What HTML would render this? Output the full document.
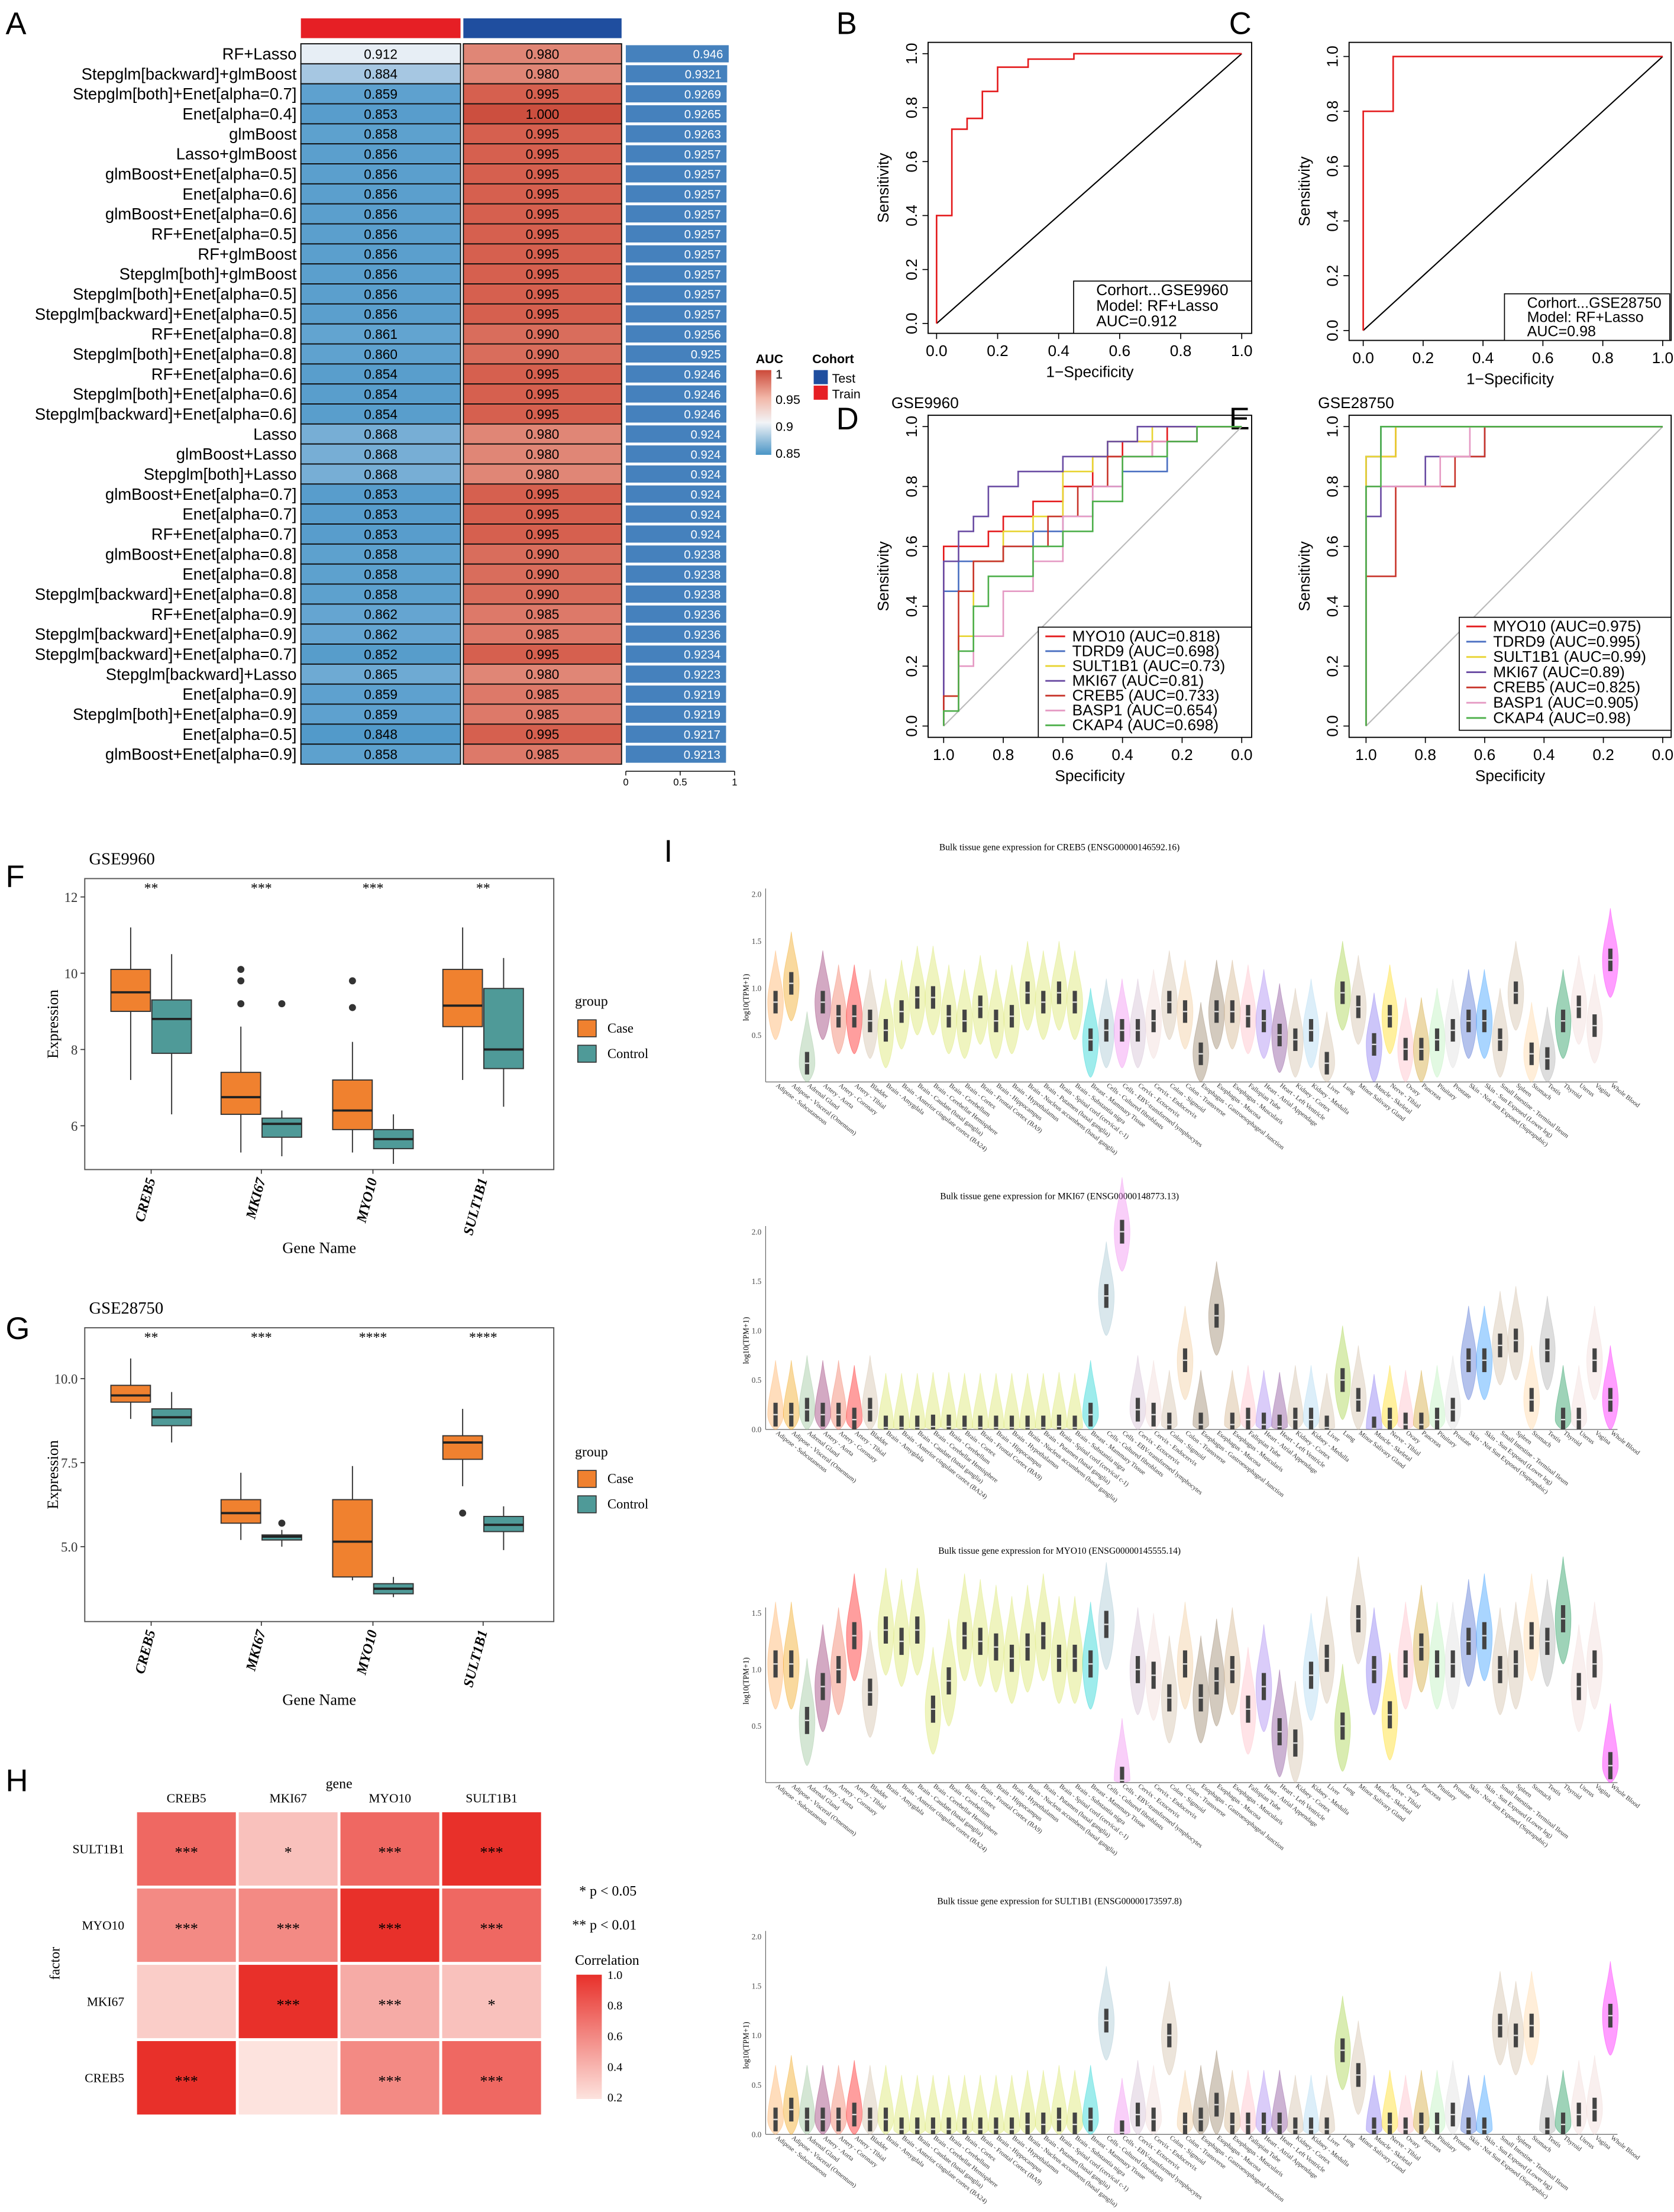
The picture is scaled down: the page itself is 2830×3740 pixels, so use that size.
<!DOCTYPE html>
<html><head><meta charset="utf-8"><style>
html,body{margin:0;padding:0;background:#fff;}
svg{display:block;}
.s{font-family:"Liberation Sans",sans-serif;}
.r{font-family:"Liberation Serif",serif;}
</style></head><body>
<svg id="s" xmlns="http://www.w3.org/2000/svg" width="2830" height="3740" viewBox="0 0 1185 1566" preserveAspectRatio="none">
<rect x="0" y="0" width="1185" height="1566" fill="#fff"/>
<g class="s" font-size="22">
<text x="4" y="24">A</text>
<text x="592" y="24">B</text>
<text x="870" y="24">C</text>
<text x="592" y="304">D</text>
<text x="870" y="304">E</text>
<text x="4" y="628">F</text>
<text x="4" y="948">G</text>
<text x="4" y="1268">H</text>
<text x="470" y="610">I</text>
</g>
<g class="s">
<defs>
<linearGradient id="aucg" x1="0" y1="0" x2="0" y2="1"><stop offset="0" stop-color="#cc4a3a"/><stop offset="0.33" stop-color="#f2b7a8"/><stop offset="0.62" stop-color="#f2f4f7"/><stop offset="1" stop-color="#4a95c6"/></linearGradient>
<linearGradient id="corg" x1="0" y1="0" x2="0" y2="1"><stop offset="0" stop-color="#e8302a"/><stop offset="1" stop-color="#fde3de"/></linearGradient>
</defs>
<text x="535" y="257" font-size="9" font-weight="bold">AUC</text>
<rect x="535" y="262" width="11" height="60" fill="url(#aucg)"/>
<text x="549" y="268" font-size="9">1</text>
<text x="549" y="286" font-size="9">0.95</text>
<text x="549" y="305" font-size="9">0.9</text>
<text x="549" y="324" font-size="9">0.85</text>
<text x="575" y="257" font-size="9" font-weight="bold">Cohort</text>
<rect x="576" y="262" width="10" height="10" fill="#1f4e9f"/>
<text x="589" y="271" font-size="9">Test</text>
<rect x="576" y="273" width="10" height="10" fill="#e61f25"/>
<text x="589" y="282" font-size="9">Train</text>
</g>
<rect x="213" y="13" width="113" height="14" fill="#e61f25"/>
<rect x="328" y="13" width="112" height="14" fill="#1f4e9f"/>
<g id="pa"></g>
<g id="roc" class="s"></g>
<g id="box" class="r"></g>
<g id="hm" class="r"></g>
<g id="vio" class="r"></g>
</svg>
<script>
const NS='http://www.w3.org/2000/svg';
function mk(tag,attrs,parent){const e=document.createElementNS(NS,tag);for(const k in attrs)e.setAttribute(k,attrs[k]);parent.appendChild(e);return e;}
function tx(parent,str,x,y,size,extra){const e=mk('text',Object.assign({x:x,y:y,'font-size':size},extra||{}),parent);e.textContent=str;return e;}

/* ---------- Panel A data ---------- */
const modelNames=["RF+Lasso","Stepglm[backward]+glmBoost","Stepglm[both]+Enet[alpha=0.7]","Enet[alpha=0.4]","glmBoost","Lasso+glmBoost","glmBoost+Enet[alpha=0.5]","Enet[alpha=0.6]","glmBoost+Enet[alpha=0.6]","RF+Enet[alpha=0.5]","RF+glmBoost","Stepglm[both]+glmBoost","Stepglm[both]+Enet[alpha=0.5]","Stepglm[backward]+Enet[alpha=0.5]","RF+Enet[alpha=0.8]","Stepglm[both]+Enet[alpha=0.8]","RF+Enet[alpha=0.6]","Stepglm[both]+Enet[alpha=0.6]","Stepglm[backward]+Enet[alpha=0.6]","Lasso","glmBoost+Lasso","Stepglm[both]+Lasso","glmBoost+Enet[alpha=0.7]","Enet[alpha=0.7]","RF+Enet[alpha=0.7]","glmBoost+Enet[alpha=0.8]","Enet[alpha=0.8]","Stepglm[backward]+Enet[alpha=0.8]","RF+Enet[alpha=0.9]","Stepglm[backward]+Enet[alpha=0.9]","Stepglm[backward]+Enet[alpha=0.7]","Stepglm[backward]+Lasso","Enet[alpha=0.9]","Stepglm[both]+Enet[alpha=0.9]","Enet[alpha=0.5]","glmBoost+Enet[alpha=0.9]"];
const trainAUC=[0.912,0.884,0.859,0.853,0.858,0.856,0.856,0.856,0.856,0.856,0.856,0.856,0.856,0.856,0.861,0.860,0.854,0.854,0.854,0.868,0.868,0.868,0.853,0.853,0.853,0.858,0.858,0.858,0.862,0.862,0.852,0.865,0.859,0.859,0.848,0.858];
const testAUC=[0.980,0.980,0.995,1.000,0.995,0.995,0.995,0.995,0.995,0.995,0.995,0.995,0.995,0.995,0.990,0.990,0.995,0.995,0.995,0.980,0.980,0.980,0.995,0.995,0.995,0.990,0.990,0.990,0.985,0.985,0.995,0.980,0.985,0.985,0.995,0.985];
const meanAUC=["0.946","0.9321","0.9269","0.9265","0.9263","0.9257","0.9257","0.9257","0.9257","0.9257","0.9257","0.9257","0.9257","0.9257","0.9256","0.925","0.9246","0.9246","0.9246","0.924","0.924","0.924","0.924","0.924","0.924","0.9238","0.9238","0.9238","0.9236","0.9236","0.9234","0.9223","0.9219","0.9219","0.9217","0.9213"];
const barTicks=[0,0.5,1];

/* ---------- ROC data ---------- */
const rocB=[[0,0],[0,0.4],[0.05,0.4],[0.05,0.72],[0.1,0.72],[0.1,0.76],[0.15,0.76],[0.15,0.86],[0.2,0.86],[0.2,0.95],[0.3,0.95],[0.3,0.98],[0.45,0.98],[0.45,1],[1,1]];
const rocC=[[0,0],[0,0.8],[0.1,0.8],[0.1,1],[1,1]];
const genesD=["MYO10","TDRD9","SULT1B1","MKI67","CREB5","BASP1","CKAP4"];
const aucD=["0.818","0.698","0.73","0.81","0.733","0.654","0.698"];
const aucE=["0.975","0.995","0.99","0.89","0.825","0.905","0.98"];
const rocColors=["#e41a1c","#4a6fc1","#e8d431","#6a4ca3","#c8352b","#e59ac4","#4daf4a"];
const rocD=[
[[0,0],[0,0.25],[0.05,0.6],[0.15,0.6],[0.2,0.65],[0.3,0.7],[0.4,0.75],[0.5,0.8],[0.6,0.9],[0.75,0.95],[0.85,1],[1,1]],
[[0,0],[0,0.2],[0.05,0.45],[0.1,0.55],[0.2,0.55],[0.3,0.6],[0.4,0.65],[0.5,0.7],[0.6,0.8],[0.75,0.85],[0.85,0.95],[1,1]],
[[0,0],[0.05,0.1],[0.1,0.3],[0.2,0.55],[0.3,0.65],[0.4,0.7],[0.5,0.85],[0.55,0.9],[0.7,0.95],[0.8,1],[1,1]],
[[0,0],[0,0.3],[0.05,0.55],[0.1,0.65],[0.15,0.7],[0.25,0.8],[0.4,0.85],[0.55,0.9],[0.65,0.95],[0.8,1],[1,1]],
[[0,0],[0.05,0.1],[0.1,0.45],[0.2,0.55],[0.35,0.6],[0.45,0.7],[0.55,0.8],[0.7,0.9],[0.85,0.95],[1,1]],
[[0,0],[0.05,0.05],[0.1,0.2],[0.2,0.3],[0.3,0.45],[0.4,0.55],[0.5,0.7],[0.6,0.8],[0.7,0.9],[0.85,0.95],[1,1]],
[[0,0],[0.05,0.05],[0.1,0.25],[0.15,0.4],[0.3,0.5],[0.4,0.6],[0.5,0.65],[0.6,0.75],[0.75,0.9],[0.85,0.95],[1,1]]];
const rocE=[
[[0,0],[0,0.9],[0.1,0.9],[0.1,1],[1,1]],
[[0,0],[0,0.9],[0.05,0.9],[0.05,1],[1,1]],
[[0,0],[0,0.9],[0.1,0.9],[0.1,1],[1,1]],
[[0,0],[0,0.7],[0.05,0.7],[0.05,0.8],[0.2,0.8],[0.2,0.9],[0.4,0.9],[0.4,1],[1,1]],
[[0,0],[0,0.5],[0.1,0.5],[0.1,0.8],[0.3,0.8],[0.3,0.9],[0.4,0.9],[0.4,1],[1,1]],
[[0,0],[0,0.8],[0.25,0.8],[0.25,0.9],[0.35,0.9],[0.35,1],[1,1]],
[[0,0],[0,0.8],[0.05,0.8],[0.05,1],[1,1]]];

/* ---------- Boxplot data ---------- */
const boxGenes=["CREB5","MKI67","MYO10","SULT1B1"];
const fCase=[[7.2,9.0,9.5,10.1,11.2],[5.3,6.3,6.75,7.4,8.6],[5.3,5.9,6.4,7.2,8.2],[7.2,8.6,9.15,10.1,11.2]];
const fCtrl=[[6.3,7.9,8.8,9.3,10.5],[5.2,5.7,6.05,6.2,6.4],[5.0,5.4,5.65,5.9,6.3],[6.5,7.5,8.0,9.6,10.4]];
const fCaseOut=[[],[9.2,9.8,10.1],[9.1,9.8],[]];
const fCtrlOut=[[],[9.2],[],[]];
const fSig=["**","***","***","**"];
const gCase=[[8.8,9.3,9.5,9.8,10.6],[5.2,5.7,6.0,6.4,7.2],[4.0,4.1,5.15,6.4,7.4],[6.8,7.6,8.1,8.3,9.1]];
const gCtrl=[[8.1,8.6,8.85,9.1,9.6],[5.0,5.2,5.3,5.35,5.5],[3.5,3.6,3.75,3.9,4.1],[4.9,5.45,5.65,5.9,6.2]];
const gCaseOut=[[],[],[],[6.0]];
const gCtrlOut=[[],[5.7],[],[]];
const gSig=["**","***","****","****"];
const fTicks=[6,8,10,12];
const gTicks=[5.0,7.5,10.0];

/* ---------- Correlation heatmap ---------- */
const hmCols=["CREB5","MKI67","MYO10","SULT1B1"];
const hmRows=["SULT1B1","MYO10","MKI67","CREB5"];
const hmVals=[[0.75,0.35,0.75,1.0],[0.6,0.6,1.0,0.75],[0.3,1.0,0.45,0.35],[1.0,0.2,0.6,0.75]];
const hmStars=[["***","*","***","***"],["***","***","***","***"],["","***","***","*"],["***","","***","***"]];

/* ---------- Violin data ---------- */
const tissues=["Adipose - Subcutaneous","Adipose - Visceral (Omentum)","Adrenal Gland","Artery - Aorta","Artery - Coronary","Artery - Tibial","Bladder","Brain - Amygdala","Brain - Anterior cingulate cortex (BA24)","Brain - Caudate (basal ganglia)","Brain - Cerebellar Hemisphere","Brain - Cerebellum","Brain - Cortex","Brain - Frontal Cortex (BA9)","Brain - Hippocampus","Brain - Hypothalamus","Brain - Nucleus accumbens (basal ganglia)","Brain - Putamen (basal ganglia)","Brain - Spinal cord (cervical c-1)","Brain - Substantia nigra","Breast - Mammary Tissue","Cells - Cultured fibroblasts","Cells - EBV-transformed lymphocytes","Cervix - Ectocervix","Cervix - Endocervix","Colon - Sigmoid","Colon - Transverse","Esophagus - Gastroesophageal Junction","Esophagus - Mucosa","Esophagus - Muscularis","Fallopian Tube","Heart - Atrial Appendage","Heart - Left Ventricle","Kidney - Cortex","Kidney - Medulla","Liver","Lung","Minor Salivary Gland","Muscle - Skeletal","Nerve - Tibial","Ovary","Pancreas","Pituitary","Prostate","Skin - Not Sun Exposed (Suprapubic)","Skin - Sun Exposed (Lower leg)","Small Intestine - Terminal Ileum","Spleen","Stomach","Testis","Thyroid","Uterus","Vagina","Whole Blood"];
const tissueColors=["#FFA54F","#EE9A00","#8FBC8F","#8B1C62","#EE6A50","#FF0000","#CDB79E","#D4E157","#D4E157","#D4E157","#D4E157","#D4E157","#D4E157","#D4E157","#D4E157","#D4E157","#D4E157","#D4E157","#D4E157","#D4E157","#00CDCD","#9AC0CD","#EE82EE","#CDB5CD","#EED5D2","#CDB79E","#EEC591","#8B7355","#8B7355","#CDAA7D","#FFB6C1","#9F79EE","#7A378B","#CDB79E","#A4D3EE","#CDB79E","#9ACD32","#CDB79E","#7A67EE","#FFD700","#FFB6C1","#CD9B1D","#B4EEB4","#D9D9D9","#3A5FCD","#1E90FF","#CDB79E","#CDB79E","#FFD39B","#A6A6A6","#008B45","#EED5D2","#EED5D2","#FF00FF"];
const creb5Med=[0.85,1.05,0.2,0.85,0.7,0.7,0.65,0.55,0.75,0.9,0.9,0.7,0.65,0.8,0.65,0.7,0.95,0.85,0.95,0.85,0.45,0.55,0.55,0.55,0.65,0.85,0.75,0.3,0.75,0.75,0.7,0.65,0.5,0.45,0.55,0.2,0.95,0.8,0.4,0.7,0.35,0.35,0.45,0.55,0.65,0.65,0.45,0.95,0.3,0.25,0.65,0.8,0.6,1.3];
const mki67Med=[0.15,0.15,0.2,0.15,0.15,0.1,0.2,0.02,0.02,0.02,0.03,0.03,0.02,0.02,0.02,0.02,0.02,0.02,0.03,0.02,0.15,1.35,2.0,0.2,0.15,0.05,0.7,0.05,1.15,0.05,0.1,0.05,0.03,0.1,0.1,0.02,0.5,0.3,0.01,0.1,0.05,0.05,0.1,0.2,0.7,0.7,0.85,0.9,0.3,0.8,0.1,0.1,0.7,0.3];
const myo10Med=[1.05,1.05,0.55,0.85,1.0,1.3,0.8,1.35,1.25,1.35,0.65,0.9,1.3,1.25,1.2,1.1,1.2,1.3,1.1,1.1,1.05,1.4,0.02,1.0,0.95,0.75,1.05,0.75,0.9,1.0,0.65,0.85,0.45,0.35,0.95,1.1,0.5,1.45,1.0,0.6,1.05,1.2,1.05,1.05,1.25,1.3,1.0,1.05,1.3,1.25,1.45,0.85,1.05,0.15];
const sult1b1Med=[0.15,0.25,0.15,0.15,0.15,0.2,0.15,0.15,0.05,0.05,0.05,0.05,0.05,0.05,0.05,0.05,0.1,0.1,0.15,0.1,0.15,1.15,0.02,0.2,0.15,1.0,0.1,0.15,0.3,0.1,0.1,0.1,0.1,0.05,0.05,0.05,0.85,0.6,0.05,0.1,0.05,0.1,0.1,0.2,0.05,0.05,1.1,1.0,1.1,0.05,0.1,0.2,0.25,1.2];
const violinTitles=["Bulk tissue gene expression for CREB5 (ENSG00000146592.16)","Bulk tissue gene expression for MKI67 (ENSG00000148773.13)","Bulk tissue gene expression for MYO10 (ENSG00000145555.14)","Bulk tissue gene expression for SULT1B1 (ENSG00000173597.8)"];
const violinTicks=[[0.5,1.0,1.5,2.0],[0.0,0.5,1.0,1.5,2.0],[0.5,1.0,1.5],[0.0,0.5,1.0,1.5,2.0]];

/* ================= DRAW ================= */
function lerpC(a,b,t){const pa=[1,3,5].map(i=>parseInt(a.substr(i,2),16)),pb=[1,3,5].map(i=>parseInt(b.substr(i,2),16));return 'rgb('+pa.map((v,i)=>Math.round(v+(pb[i]-v)*t)).join(',')+')';}
function aucColor(v){
  const stops=[[0.84,'#4a95c6'],[0.86,'#5fa2cf'],[0.885,'#a9c9e3'],[0.915,'#eef2f7'],[0.96,'#f2b8a8'],[0.98,'#e08676'],[0.995,'#d6604f'],[1.0,'#cc4f3f']];
  if(v<=stops[0][0])return stops[0][1];
  for(let i=1;i<stops.length;i++){if(v<=stops[i][0]){const t=(v-stops[i-1][0])/(stops[i][0]-stops[i-1][0]);return lerpC(stops[i-1][1],stops[i][1],t);}}
  return stops[stops.length-1][1];
}
(function(){
  const g=document.getElementById('pa');
  const y0=31,rh=510/36;
  const barX=(v)=>443+v*77;
  modelNames.forEach((n,i)=>{
    const y=y0+i*rh;
    const t=tx(g,n,210,y+rh/2+4,11.5,{'text-anchor':'end','font-family':'Liberation Sans, sans-serif'});
    
    
    const c1=mk('rect',{x:213,y:y,width:113,height:rh,fill:aucColor(trainAUC[i]),stroke:'#111','stroke-width':0.8},g);
    
    
    const t1=tx(g,trainAUC[i].toFixed(3),269.5,y+rh/2+3.5,9.5,{'text-anchor':'middle','font-family':'Liberation Sans, sans-serif'});
    
    
    const c2=mk('rect',{x:328,y:y,width:112,height:rh,fill:aucColor(testAUC[i]),stroke:'#111','stroke-width':0.8},g);
    
    
    const t2=tx(g,testAUC[i].toFixed(3),384,y+rh/2+3.5,9.5,{'text-anchor':'middle','font-family':'Liberation Sans, sans-serif'});
    
    
    const mv=parseFloat(meanAUC[i]);
    const b=mk('rect',{x:barX(0),y:y+1,width:barX(mv)-barX(0),height:rh-2,fill:'#4581bd'},g);
    
    
    const t3=tx(g,meanAUC[i],barX(mv)-4,y+rh/2+3.2,8.5,{'text-anchor':'end',fill:'#fff','font-family':'Liberation Sans, sans-serif'});
    
    
  });
  const ax=mk('line',{x1:barX(0),y1:546,x2:barX(1),y2:546,stroke:'#000','stroke-width':0.6},g);
  
  
  barTicks.forEach(v=>{
    const l=mk('line',{x1:barX(v),y1:546,x2:barX(v),y2:549,stroke:'#000','stroke-width':0.6},g);
    
    
    const t=tx(g,String(v),barX(v),556,7,{'text-anchor':'middle','font-family':'Liberation Sans, sans-serif'});
    
    
  });
})();

function rocPanel(cfg){
  const g=document.getElementById('roc');
  const X=v=>cfg.x0+(cfg.x1-cfg.x0)*v, Y=v=>cfg.y0+(cfg.y1-cfg.y0)*v;
  const fr=mk('rect',{x:cfg.bx,y:cfg.by,width:cfg.bw,height:cfg.bh,fill:'none',stroke:'#000','stroke-width':0.8},g);
  
  
  const d=mk('line',{x1:X(0),y1:Y(0),x2:X(1),y2:Y(1),stroke:cfg.diag,'stroke-width':0.9},g);
  
  
  const ticks=[0,0.2,0.4,0.6,0.8,1];
  const by=cfg.by+cfg.bh;
  ticks.forEach(v=>{
    const lab=cfg.rev?(1-v).toFixed(1):v.toFixed(1);
    const l=mk('line',{x1:X(v),y1:by,x2:X(v),y2:by+4,stroke:'#000','stroke-width':0.7},g);
    
    
    const t=tx(g,lab,X(v),by+16,11,{'text-anchor':'middle'});
    
    
    const l2=mk('line',{x1:cfg.bx,y1:Y(v),x2:cfg.bx-4,y2:Y(v),stroke:'#000','stroke-width':0.7},g);
    
    
    const t2=tx(g,v.toFixed(1),cfg.bx-8,Y(v),11,{'text-anchor':'middle',transform:'rotate(-90 '+(cfg.bx-8)+' '+Y(v)+')'});
    
    
  });
  const xt=tx(g,cfg.xlab,(cfg.bx+cfg.bx+cfg.bw)/2,by+31,11,{'text-anchor':'middle'});
  
  
  const yx=cfg.bx-28, ym=cfg.by+cfg.bh/2;
  const yt=tx(g,'Sensitivity',yx,ym,11,{'text-anchor':'middle',transform:'rotate(-90 '+yx+' '+ym+')'});
  
  
  cfg.curves.forEach((pts,k)=>{
    let s='';
    pts.forEach((p,i)=>{ if(i===0){s+='M'+X(p[0])+' '+Y(p[1]);} else {const q=pts[i-1]; s+=' L'+X(q[0])+' '+Y(p[1])+' L'+X(p[0])+' '+Y(p[1]);} });
    const pth=mk('path',{d:s,fill:'none',stroke:cfg.colors[k],'stroke-width':1.1},g);
    
    
  });
  const lg=mk('rect',{x:cfg.lx,y:cfg.ly,width:cfg.lw,height:cfg.lh,fill:'#fff',stroke:'#000','stroke-width':0.7},g);
  
  
  cfg.legend.forEach((s,i)=>{
    const yy=cfg.ly+10+i*cfg.lstep;
    if(cfg.lineLegend){
      const ll=mk('line',{x1:cfg.lx+5,y1:yy-3.5,x2:cfg.lx+19,y2:yy-3.5,stroke:cfg.colors[i],'stroke-width':1.2},g);
      
      
    }
    const t=tx(g,s,cfg.lx+(cfg.lineLegend?24:16),yy,cfg.lfs,{});
    
    
  });
  if(cfg.title){const t=tx(g,cfg.title,cfg.tx,cfg.ty,11,{});}
}
rocPanel({bx:657,by:30,bw:229,bh:206,x0:663,x1:879,y0:229,y1:38,diag:'#000',xlab:'1\u2212Specificity',curves:[rocB],colors:['#e41a1c'],lx:760,ly:199,lw:126,lh:37,lstep:11,lfs:11,legend:['Corhort...GSE9960','Model: RF+Lasso','AUC=0.912']});
rocPanel({bx:955,by:30,bw:228,bh:211,x0:965,x1:1177,y0:234,y1:40,diag:'#000',xlab:'1\u2212Specificity',curves:[rocC],colors:['#e41a1c'],lx:1065,ly:208,lw:117,lh:33,lstep:10,lfs:10.5,legend:['Corhort...GSE28750','Model: RF+Lasso','AUC=0.98']});
rocPanel({bx:657,by:294,bw:229,bh:228,x0:668,x1:879,y0:514,y1:302,rev:true,diag:'#bbb',xlab:'Specificity',curves:rocD,colors:rocColors,lx:735,ly:444,lw:151,lh:78,lstep:10.5,lfs:11,lineLegend:true,legend:genesD.map((g,i)=>g+' (AUC='+aucD[i]+')'),title:'GSE9960',tx:631,ty:289});
rocPanel({bx:955,by:294,bw:228,bh:228,x0:967,x1:1177,y0:514,y1:302,rev:true,diag:'#bbb',xlab:'Specificity',curves:rocE,colors:rocColors,lx:1033,ly:437,lw:150,lh:80,lstep:10.8,lfs:11,lineLegend:true,legend:genesD.map((g,i)=>g+' (AUC='+aucE[i]+')'),title:'GSE28750',tx:933,ty:289});

function boxPanel(cfg){
  const g=document.getElementById('box');
  const Y=v=>cfg.yb-(v-cfg.vb)*cfg.sc;
  const fr=mk('rect',{x:60,y:cfg.top,width:332,height:cfg.bot-cfg.top,fill:'#fff',stroke:'#555','stroke-width':0.8},g);
  
  
  const t=tx(g,cfg.title,63,cfg.top-10,12,{});
  
  
  cfg.ticks.forEach(v=>{
    const l=mk('line',{x1:57,y1:Y(v),x2:60,y2:Y(v),stroke:'#333','stroke-width':0.7},g);
    
    
    const tt=tx(g,cfg.fmt(v),55,Y(v)+3.5,9.5,{'text-anchor':'end',fill:'#333'});
    
    
  });
  const centers=[107,185,264,342];
  boxGenes.forEach((gn,i)=>{
    [[cfg.cas[i],cfg.casOut[i],-14.5,'#f0812f'],[cfg.ctl[i],cfg.ctlOut[i],14.5,'#4f9a98']].forEach(([b,out,off,col])=>{
      const cx=centers[i]+off;
      const w=mk('line',{x1:cx,y1:Y(b[0]),x2:cx,y2:Y(b[4]),stroke:'#333','stroke-width':0.8},g);
      
      
      const r=mk('rect',{x:cx-14,y:Y(b[3]),width:28,height:Y(b[1])-Y(b[3]),fill:col,stroke:'#333','stroke-width':0.8},g);
      
      
      const m=mk('line',{x1:cx-14,y1:Y(b[2]),x2:cx+14,y2:Y(b[2]),stroke:'#222','stroke-width':1.6},g);
      
      
      out.forEach(o=>{const c=mk('circle',{cx:cx,cy:Y(o),r:2.5,fill:'#333'},g);});
    });
    const s=tx(g,cfg.sig[i],centers[i],cfg.top+10,10,{'text-anchor':'middle'});
    
    
    const tk=mk('line',{x1:centers[i],y1:cfg.bot,x2:centers[i],y2:cfg.bot+3,stroke:'#333','stroke-width':0.7},g);
    
    
    const xl=tx(g,gn,centers[i]+3,cfg.bot+7,10,{'text-anchor':'end','font-weight':'bold','font-style':'italic',transform:'rotate(-75 '+(centers[i]+3)+' '+(cfg.bot+7)+')'});
    
    
  });
  const xt=tx(g,'Gene Name',226,cfg.bot+59,11,{'text-anchor':'middle'});
  
  
  const ym=(cfg.top+cfg.bot)/2;
  const yt=tx(g,'Expression',41,ym,11,{'text-anchor':'middle',transform:'rotate(-90 41 '+ym+')'});
  
  
  const lt=tx(g,'group',407,cfg.leg,10,{});
  
  
  [['Case','#f0812f'],['Control','#4f9a98']].forEach(([n,c],k)=>{
    const yy=cfg.leg+10+k*18;
    const r=mk('rect',{x:409,y:yy,width:13,height:12,fill:c,stroke:'#333','stroke-width':0.7},g);
    
    
    const t2=tx(g,n,430,yy+9,9.5,{});
    
    
  });
}
boxPanel({title:'GSE9960',top:622,bot:828,yb:797,vb:6,sc:27,ticks:fTicks,fmt:v=>String(v),cas:fCase,ctl:fCtrl,casOut:fCaseOut,ctlOut:fCtrlOut,sig:fSig,leg:712});
boxPanel({title:'GSE28750',top:940,bot:1148,yb:1095,vb:5,sc:23.8,ticks:gTicks,fmt:v=>v.toFixed(1),cas:gCase,ctl:gCtrl,casOut:gCaseOut,ctlOut:gCtrlOut,sig:gSig,leg:1031});

(function(){
  const g=document.getElementById('hm');
  const x0=96,y0=1282,cw=72,ch=54;
  const col=v=>lerpC('#fde3de','#e8302a',(v-0.2)/0.8);
  const gt=tx(g,'gene',240,1266,10,{'text-anchor':'middle'});
  
  
  const ft=tx(g,'factor',42,1390,10,{'text-anchor':'middle',transform:'rotate(-90 42 1390)'});
  
  
  hmCols.forEach((c,j)=>{const t=tx(g,c,x0+cw*j+cw/2,1276,9,{'text-anchor':'middle'});});
  hmRows.forEach((r,i)=>{
    const t=tx(g,r,88,y0+ch*i+ch/2+3,9,{'text-anchor':'end'});
    
    
    hmCols.forEach((c,j)=>{
      const rc=mk('rect',{x:x0+cw*j,y:y0+ch*i,width:cw,height:ch,fill:col(hmVals[i][j]),stroke:'#fff','stroke-width':2},g);
      
      
      if(hmStars[i][j]){const st=tx(g,hmStars[i][j],x0+cw*j+cw/2,y0+ch*i+ch/2+6,11,{'text-anchor':'middle'});}
    });
  });
  const a=tx(g,'* p < 0.05',410,1342,10,{});
  const b=tx(g,'** p < 0.01',405,1366,10,{});
  const c=tx(g,'Correlation',407,1391,10,{});
  const gr=mk('rect',{x:408,y:1398,width:18,height:88,fill:'url(#corg)'},g);
  
  
  [1.0,0.8,0.6,0.4,0.2].forEach((v,k)=>{const t=tx(g,v.toFixed(1),430,1401+k*21.7,8.5,{});});
})();

function violinPanel(meds,title,titleY,baseY,sc,ticks){
  const g=document.getElementById('vio');
  const X=i=>549+i*11.15, Y=v=>baseY-v*sc;
  const t=tx(g,title,750,titleY,6.5,{'text-anchor':'middle'});
  
  
  const ax=mk('line',{x1:542,y1:Y(0)-Math.max(...ticks)*sc-4,x2:542,y2:Y(0),stroke:'#666','stroke-width':0.5},g);
  
  
  const bx=mk('line',{x1:542,y1:Y(0),x2:1145,y2:Y(0),stroke:'#666','stroke-width':0.5},g);
  
  
  ticks.forEach(v=>{const tt=tx(g,v.toFixed(1),539,Y(v)+2,5.5,{'text-anchor':'end',fill:'#444'});});
  const ym=Y(0)-sc*0.9;
  const yt=tx(g,'log10(TPM+1)',530,ym,5.5,{'text-anchor':'middle',transform:'rotate(-90 530 '+ym+')'});
  
  
  meds.forEach((m,i)=>{
    const cx=X(i), lo=Math.max(0,m-0.4), hi=m+0.55, w=5.6;
    const yH=Y(hi),yM=Y(m),yL=Y(lo);
    const d='M'+cx+' '+yH+' C'+(cx+w*0.3)+' '+(yH+(yM-yH)*0.4)+' '+(cx+w)+' '+(yM-(yM-yH)*0.3)+' '+(cx+w)+' '+yM+' C'+(cx+w)+' '+(yM+(yL-yM)*0.5)+' '+(cx+w*0.3)+' '+yL+' '+cx+' '+yL+' C'+(cx-w*0.3)+' '+yL+' '+(cx-w)+' '+(yM+(yL-yM)*0.5)+' '+(cx-w)+' '+yM+' C'+(cx-w)+' '+(yM-(yM-yH)*0.3)+' '+(cx-w*0.3)+' '+(yH+(yM-yH)*0.4)+' '+cx+' '+yH+'Z';
    const p=mk('path',{d:d,fill:tissueColors[i],'fill-opacity':0.38,stroke:tissueColors[i],'stroke-opacity':0.35,'stroke-width':0.4},g);
    
    
    const q=mk('rect',{x:cx-1.5,y:Y(m+0.12),width:3,height:Math.max(1,Y(Math.max(0,m-0.12))-Y(m+0.12)),fill:'#444'},g);
    
    
    const md=mk('rect',{x:cx-1.5,y:yM-0.5,width:3,height:1,fill:'#ddd'},g);
    
    
    const ty=Y(0)+3;
    const lb=tx(g,tissues[i],cx,ty,4.6,{'text-anchor':'start',transform:'rotate(38 '+cx+' '+ty+')',fill:'#333'});
    
    
  });
}
violinPanel(creb5Med,violinTitles[0],602,766,66.5,violinTicks[0]);
violinPanel(mki67Med,violinTitles[1],849,1012,70,violinTicks[1]);
violinPanel(myo10Med,violinTitles[2],1100,1262,80,violinTicks[2]);
violinPanel(sult1b1Med,violinTitles[3],1348,1511,70,violinTicks[3]);
</script>
</body></html>
